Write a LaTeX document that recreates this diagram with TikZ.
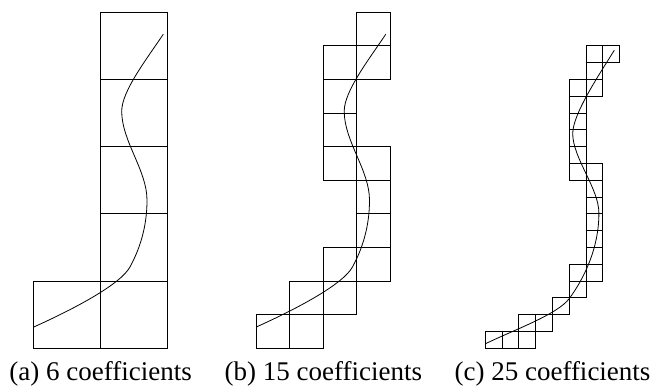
\documentclass[tikz,border=0pt]{standalone}
\usepackage{fontspec}
\setmainfont{Liberation Serif}
\newfontfamily\capfont{Liberation Serif}
\begin{document}
\begin{tikzpicture}[x=1pt,y=-1pt,
  cell/.style={draw=black,line width=0.9pt},
  curve/.style={draw=black,line width=0.8pt},
  caption/.style={anchor=base,inner sep=0pt,font=\capfont\fontsize{27}{30}\selectfont}]
\useasboundingbox (0,0) rectangle (652,385);
% ---------- panel (a) ----------
\begin{scope}[shift={(33.5,348.2)}]
  \foreach \c/\r in {0/0,1/0,1/1,1/2,1/3,1/4}
    \draw[cell] (\c*67.2,-\r*67.2) rectangle ++(67.2,-67.2);
  \draw[curve] (0.5,-21.3) .. controls (40.5,-39.3) and (86.9,-63.7) .. (96.5,-81.3)
     .. controls (106.1,-98.9) and (113.5,-121) .. (113.5,-148)
     .. controls (113.5,-178) and (88.2,-207) .. (88.2,-237)
     .. controls (88.2,-257) and (113.1,-289) .. (129.8,-314);
\end{scope}
% ---------- panel (b) ----------
\begin{scope}[shift={(256,348.2)}]
  \foreach \c/\r in {0/0,1/0,1/1,2/1,2/2,3/2,3/3,3/4,2/5,3/5,2/6,2/7,2/8,3/8,3/9}
    \draw[cell] (\c*33.6,-\r*33.6) rectangle ++(33.6,-33.6);
  \draw[curve] (0.5,-21.3) .. controls (40.5,-39.3) and (86.9,-63.7) .. (96.5,-81.3)
     .. controls (106.1,-98.9) and (113.5,-121) .. (113.5,-148)
     .. controls (113.5,-178) and (88.2,-207) .. (88.2,-237)
     .. controls (88.2,-257) and (113.1,-289) .. (129.8,-314);
\end{scope}
% ---------- panel (c) ----------
\begin{scope}[shift={(485.3,348.2)}]
  \foreach \c/\r in {0/0,1/0,2/0,2/1,3/1,4/2,5/3,5/4,6/4,6/5,6/6,6/7,6/8,6/9,6/10,5/10,5/11,5/12,5/13,5/14,5/15,6/15,6/16,6/17,7/17}
    \draw[cell] (\c*16.8,-\r*16.8) rectangle ++(16.8,-16.8);
  \draw[curve] (0.7,-4.7) .. controls (27.7,-17.9) and (72.2,-33.7) .. (84,-49.7)
     .. controls (98.75,-69.7) and (113.6,-100) .. (113.6,-135)
     .. controls (113.6,-160) and (87.4,-190) .. (87.4,-214.7)
     .. controls (87.4,-234.7) and (116,-276.75) .. (129,-298);
\end{scope}
% ---------- captions ----------
\node[caption] (capa) at (100.6,380.5) {(a) 6 coefficients};
\node[caption] (capb) at (323.4,380.5) {(b) 15 coefficients};
\node[caption] (capc) at (552.5,380.5) {(c) 25 coefficients};
\end{tikzpicture}
\end{document}
